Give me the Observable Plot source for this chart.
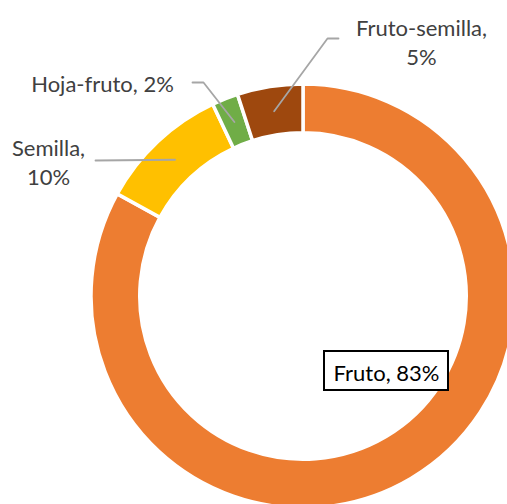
<!DOCTYPE html>
<html><head><meta charset="utf-8">
<script src="https://cdn.jsdelivr.net/npm/d3@7"></script>
<script src="https://cdn.jsdelivr.net/npm/@observablehq/plot@0.6"></script>
<style>body{margin:0;background:#fff}</style>
</head><body><div id="chart"></div>
<script>
// ---- data ----
const categories = ["Fruto", "Semilla", "Hoja-fruto", "Fruto-semilla"];
const values = [83, 10, 2, 5];
const labels = ["Fruto, 83%", "Semilla,\n10%", "Hoja-fruto, 2%", "Fruto-semilla,\n5%"];
const colors = ["#ED7D31", "#FFC000", "#70AD47", "#9E480E"];

// ---- layout (pixels) ----
const W = 507, H = 504, CX = 303, CY = 296, R = 212, INNER = 0.77;
const px = (x) => (x - CX) / R, py = (y) => (CY - y) / R;
const layout = {
  "Fruto": {tx: 386, ty: 371, box: [324, 351, 448, 390]},
  "Semilla": {tx: 48, ty: 161, line: [[95, 160]]},
  "Hoja-fruto": {tx: 102, ty: 82, line: [[203, 82], [192, 82]]},
  "Fruto-semilla": {tx: 421, ty: 41, line: [[327, 38], [338, 38]]}
};

const color = Plot.scale({color: {type: "ordinal", domain: categories, range: colors}});
const arcs = d3.pie().sort(null).value(d => d)(values);
const midR = (1 + INNER) / 2;

const labelData = categories.map((c, i) => ({cat: c, text: labels[i], x: px(layout[c].tx), y: py(layout[c].ty), inside: !!layout[c].box}));
const lineData = [];
categories.forEach((c, i) => {
  const L = layout[c];
  if (!L.line) return;
  const a = (arcs[i].startAngle + arcs[i].endAngle) / 2;
  lineData.push({cat: c, x: midR * Math.sin(a), y: midR * Math.cos(a)});
  L.line.forEach(([x, y]) => lineData.push({cat: c, x: px(x), y: py(y)}));
});
const boxData = categories.filter(c => layout[c].box).map(c => {
  const [x1, y1, x2, y2] = layout[c].box;
  return {x1: px(x1), x2: px(x2), y1: py(y1), y2: py(y2)};
});

function donut(index, scales) {
  const x0 = scales.x(0), y0 = scales.y(0);
  const r = scales.x(1) - x0;
  const arc = d3.arc().innerRadius(r * INNER).outerRadius(r);
  const g = d3.create("svg:g").attr("transform", `translate(${x0},${y0})`);
  g.selectAll("path").data(arcs).join("path")
    .attr("d", arc)
    .attr("fill", (d, i) => color.apply(categories[i]))
    .attr("stroke", "white")
    .attr("stroke-width", 3.5)
    .attr("stroke-linejoin", "miter");
  return g.node();
}

const chart = Plot.plot({
  width: W, height: H, margin: 0,
  style: {fontFamily: "Lato, sans-serif", background: "white"},
  x: {domain: [px(0), px(W)], range: [0, W], axis: null},
  y: {domain: [py(H), py(0)], range: [H, 0], axis: null},
  marks: [
    donut,
    Plot.line(lineData, {x: "x", y: "y", z: "cat", stroke: "#A6A6A6", strokeWidth: 1.8}),
    Plot.rect(boxData, {x1: "x1", x2: "x2", y1: "y1", y2: "y2", fill: "white", stroke: "black", strokeWidth: 2}),
    Plot.text(labelData, {x: "x", y: "y", text: "text", fontSize: 22, lineHeight: 1.28,
      fill: d => d.inside ? "#000000" : "#404040"})
  ]
});
document.getElementById("chart").appendChild(chart);
</script>
</body></html>
